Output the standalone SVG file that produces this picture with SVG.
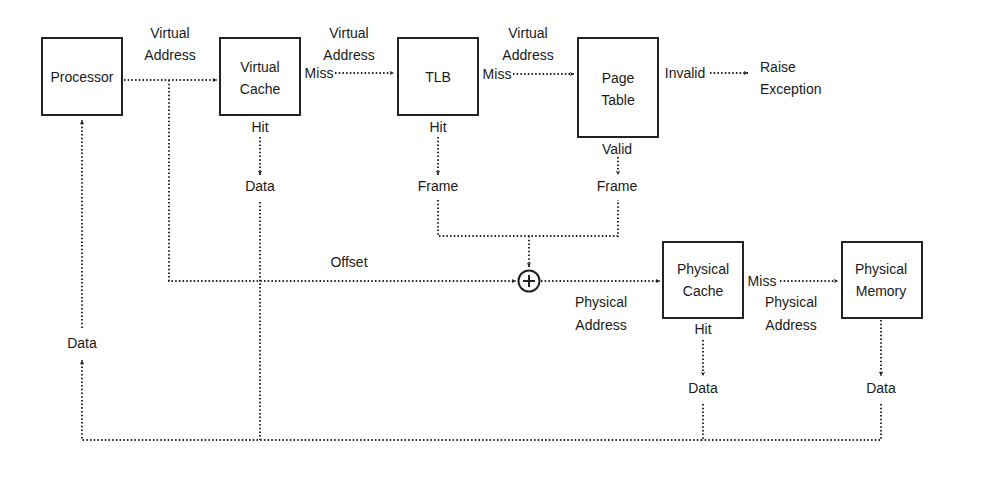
<svg xmlns="http://www.w3.org/2000/svg" width="984" height="488" viewBox="0 0 984 488">
<style>
.box{fill:#fff;stroke:#222;stroke-width:2}
.c{fill:none;stroke:#222;stroke-width:1.9;stroke-dasharray:1.5 2.2}
text{font-family:"Liberation Sans",Arial,sans-serif;font-size:14px;fill:#1a1a1a;text-anchor:middle}
.l{text-anchor:start}
</style>
<defs>
<marker id="a" viewBox="0 0 8 8" refX="7" refY="4" markerWidth="6" markerHeight="6" orient="auto" markerUnits="userSpaceOnUse">
<path d="M1,1 L7,4 L1,7 L3,4 Z" fill="#222"/>
</marker>
</defs>
<rect width="984" height="488" fill="#fff"/>
<g id="connectors">
<path class="c" d="M124,80 H217" marker-end="url(#a)"/>
<path class="c" d="M169,80 V281 H516" marker-end="url(#a)"/>
<path class="c" d="M335,73 H394" marker-end="url(#a)"/>
<path class="c" d="M513,74 H574" marker-end="url(#a)"/>
<path class="c" d="M710,73 H748" marker-end="url(#a)"/>
<path class="c" d="M260,137 V175" marker-end="url(#a)"/>
<path class="c" d="M438,137 V175" marker-end="url(#a)"/>
<path class="c" d="M618,157 V175" marker-end="url(#a)"/>
<path class="c" d="M438,200 V236 H618 V200"/>
<path class="c" d="M529,236 V267" marker-end="url(#a)"/>
<path class="c" d="M541,281 H660" marker-end="url(#a)"/>
<path class="c" d="M780,281 H838" marker-end="url(#a)"/>
<path class="c" d="M703,340 V376" marker-end="url(#a)"/>
<path class="c" d="M881,320 V376" marker-end="url(#a)"/>
<path class="c" d="M260,202 V440"/>
<path class="c" d="M703,404 V440 H82 V360" marker-end="url(#a)"/>
<path class="c" d="M881,404 V440 H700"/>
<path class="c" d="M82,328 V120" marker-end="url(#a)"/>
</g>
<g id="processor"><rect class="box" x="42" y="38" width="80" height="77"/><text x="82" y="82">Processor</text></g>
<g id="virtual-cache"><rect class="box" x="220" y="38" width="80" height="77"/><text x="260" y="72">Virtual</text><text x="260" y="94">Cache</text></g>
<g id="tlb"><rect class="box" x="398" y="38" width="80" height="77"/><text x="438" y="82">TLB</text></g>
<g id="page-table"><rect class="box" x="578" y="38" width="80" height="99"/><text x="618" y="83">Page</text><text x="618" y="105">Table</text></g>
<g id="physical-cache"><rect class="box" x="663" y="242" width="80" height="76"/><text x="703" y="274">Physical</text><text x="703" y="296">Cache</text></g>
<g id="physical-memory"><rect class="box" x="842" y="242" width="80" height="76"/><text x="881" y="274">Physical</text><text x="881" y="296">Memory</text></g>
<g id="adder"><circle cx="529" cy="281" r="10.5" fill="#fff" stroke="#222" stroke-width="2"/><path d="M523,281 H535 M529,275 V287" stroke="#222" stroke-width="2"/></g>
<g id="labels">
<text x="170" y="38">Virtual</text><text x="170" y="60">Address</text>
<text x="349" y="38">Virtual</text><text x="349" y="60">Address</text>
<text x="528" y="38">Virtual</text><text x="528" y="60">Address</text>
<text x="319" y="78">Miss</text>
<text x="497" y="79">Miss</text>
<text x="685" y="78">Invalid</text>
<text class="l" x="760" y="72">Raise</text><text class="l" x="760" y="94">Exception</text>
<text x="260" y="132">Hit</text><text x="260" y="191">Data</text>
<text x="438" y="132">Hit</text><text x="438" y="191">Frame</text>
<text x="617" y="154">Valid</text><text x="617" y="191">Frame</text>
<text x="349" y="267">Offset</text>
<text x="601" y="307">Physical</text><text x="601" y="330">Address</text>
<text x="762" y="286">Miss</text>
<text x="791" y="307">Physical</text><text x="791" y="330">Address</text>
<text x="703" y="334">Hit</text><text x="703" y="393">Data</text>
<text x="881" y="393">Data</text>
<text x="82" y="348">Data</text>
</g>
</svg>
